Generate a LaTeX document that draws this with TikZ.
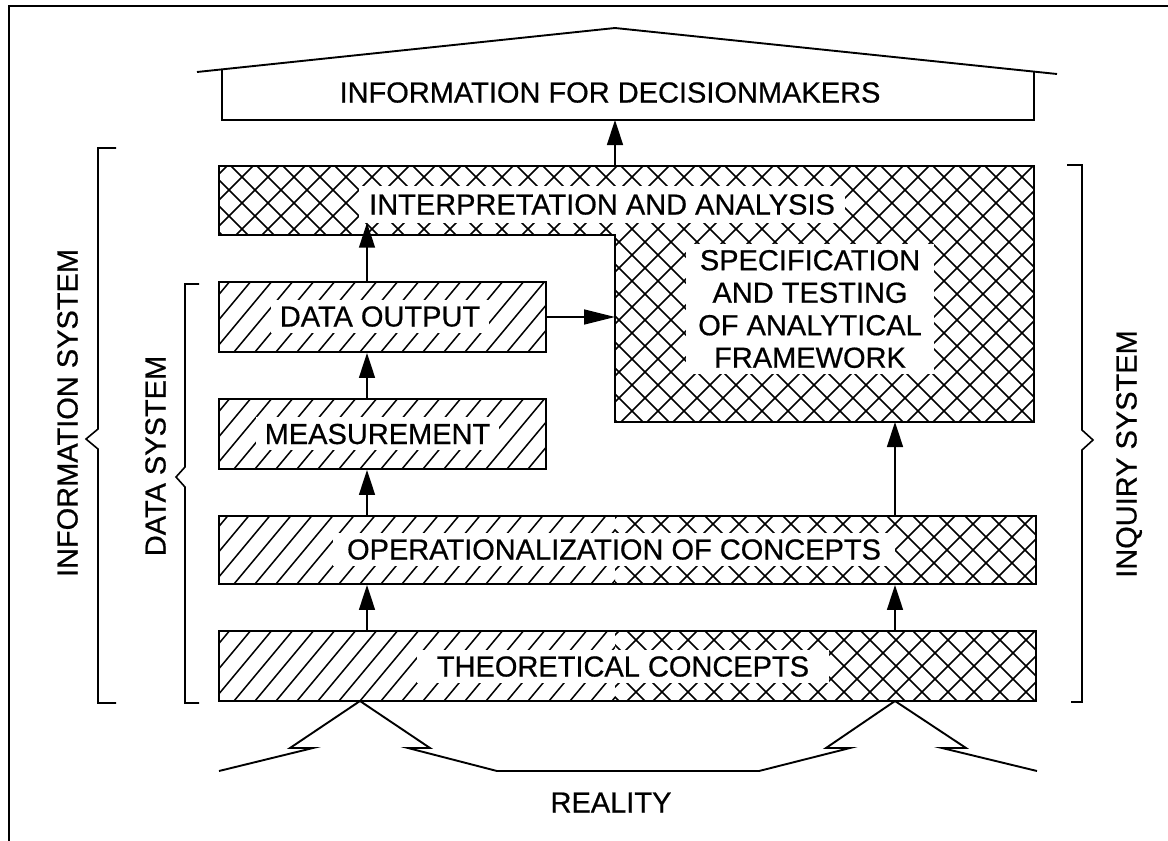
\documentclass[tikz,border=0pt]{standalone}
\usepackage{fontspec}
\setmainfont{Liberation Sans}[FakeBold=0.6]
\usetikzlibrary{arrows.meta}
\newcommand\hatchrect[4]{%
  \begin{scope}
    \clip (#1,#2) rectangle (#3,#4);
    \foreach \s in {-90,-69,...,840} \draw[hl] ({#1+\s},#4) -- ++(60pt,72pt);
  \end{scope}}
\newcommand\crossrect[4]{%
  \begin{scope}
    \clip (#1,#2) rectangle (#3,#4);
    \foreach \s in {-300,-274,...,850} {
      \draw[hl] ({#1+\s},#4) -- ++(300pt,300pt);
      \draw[hl] ({#1+\s},#2) -- ++(300pt,-300pt);}
  \end{scope}}
\tikzset{
  hl/.style={line width=1.5pt},
  bx/.style={draw, line width=1.9pt, inner sep=0pt, minimum width=327pt, minimum height=70pt},
  lbl/.style={fill=white, inner xsep=10pt, inner ysep=6pt, text height=21pt, text depth=0pt},
  plain/.style={inner sep=0pt, text height=21pt, text depth=0pt},
  arr/.style={line width=1.5pt, -{Triangle[length=25pt,width=16pt]}},
  harr/.style={line width=1.5pt, -{Triangle[length=31pt,width=15pt]}},
  brk/.style={line width=1.6pt, line join=miter},
  outl/.style={line width=1.9pt, line join=miter},
}
\begin{document}
\begin{tikzpicture}[x=1pt,y=-1pt,font=\fontsize{29}{33}\selectfont]
\useasboundingbox (0,0) rectangle (1168,841);
% frame
\draw[line width=1.6pt] (9,841) -- (9,6) -- (1168,6);

% named reference coordinates
\coordinate (ax) at (367,0);
\coordinate (bx) at (895,0);
\coordinate (Lx) at (615,0);
\coordinate (Ltop) at (615,166);
\coordinate (Lbot) at (895,422);
\coordinate (infobot) at (615,120);

% roof and information box
\draw[outl] (197,72) -- (615,28) -- (1057,74);
\draw[outl] (222,69.4) -- (222,120) -- (1034,120) -- (1034,71.6);
\node[plain] (info) at (610,92) {INFORMATION FOR DECISIONMAKERS};

% L-shaped interpretation / specification area
\begin{scope}
  \clip (219,166) -- (1034,166) -- (1034,422) -- (615,422) -- (615,235) -- (219,235) -- cycle;
  \foreach \s in {-300,-274,...,1100} {
    \draw[hl] ({219+\s},422) -- ++(300pt,300pt);
    \draw[hl] ({219+\s},166) -- ++(300pt,-300pt);}
\end{scope}
\draw[outl] (219,166) -- (1034,166) -- (1034,422) -- (615,422) -- (615,235) -- (219,235) -- cycle;

% patterns of the boxes
\hatchrect{219}{282}{546}{352}
\hatchrect{219}{399}{546}{469}
\hatchrect{219}{516}{615}{584}
\crossrect{615}{516}{1036}{584}
\hatchrect{219}{631}{615}{701}
\crossrect{615}{631}{1036}{701}

% box frames
\node[bx] (dout) at (382.5,317) {};
\node[bx] (meas) at (382.5,434) {};
\node[bx, minimum width=817pt, minimum height=68pt] (oper) at (627.5,550) {};
\node[bx, minimum width=817pt] (theo) at (627.5,666) {};

% labels with white knock-outs
\node[lbl, inner ysep=8pt] (interp) at (602,204) {INTERPRETATION AND ANALYSIS};
\node[fill=white, inner xsep=12pt, inner ysep=6pt, align=center,
      font=\fontsize{29}{32.5}\selectfont] (spec) at (810,309)
  {SPECIFICATION\\AND TESTING\\OF ANALYTICAL\\FRAMEWORK};
\node[lbl, inner xsep=9pt] (doutT) at (380,316) {DATA OUTPUT};
\node[lbl, inner xsep=9pt] (measT) at (377.5,433.5) {MEASUREMENT};
\node[lbl, inner xsep=14pt] (operT) at (614,549) {OPERATIONALIZATION OF CONCEPTS};
\node[lbl, inner xsep=20pt] (theoT) at (623,666) {THEORETICAL CONCEPTS};

% arrows
\draw[arr] (Ltop) -- (infobot);
\draw[arr] (dout.north -| ax) -- (interp.south -| ax) ;
\draw[harr] (dout.east) -- (dout.east -| Lx);
\draw[arr] (meas.north -| ax) -- (dout.south -| ax);
\draw[arr] (oper.north -| ax) -- (meas.south -| ax);
\draw[arr] (theo.north -| ax) -- (oper.south -| ax);
\draw[arr] (theo.north -| bx) -- (oper.south -| bx);
\draw[arr] (oper.north -| bx) -- (Lbot);

% reality
\draw[outl] (219,771) -- (313,748) -- (290,748) -- (360,701) -- (430,748) -- (408,748)
  -- (497,771) -- (759,771) -- (850,748) -- (826,748) -- (895,701) -- (966,748)
  -- (942,748) -- (1037,771);
\node[plain] (real) at (611,802) {REALITY};

% brackets
\draw[brk] (116,148) -- (98,148) -- (98,429) -- (86,439) -- (98,449) -- (98,703) -- (116,703);
\draw[brk] (199,284) -- (185,284) -- (185,467) -- (176,477) -- (185,487) -- (185,703) -- (199,703);
\draw[brk] (1067,165) -- (1082,165) -- (1082,430) -- (1093,440) -- (1082,450) -- (1082,702) -- (1071,702);
\node[plain, rotate=90] (infosys) at (67,413) {INFORMATION SYSTEM};
\node[plain, rotate=90] (datasys) at (155,456) {DATA SYSTEM};
\node[plain, rotate=90] (inqsys) at (1126,454) {INQUIRY SYSTEM};
\end{tikzpicture}
\end{document}
